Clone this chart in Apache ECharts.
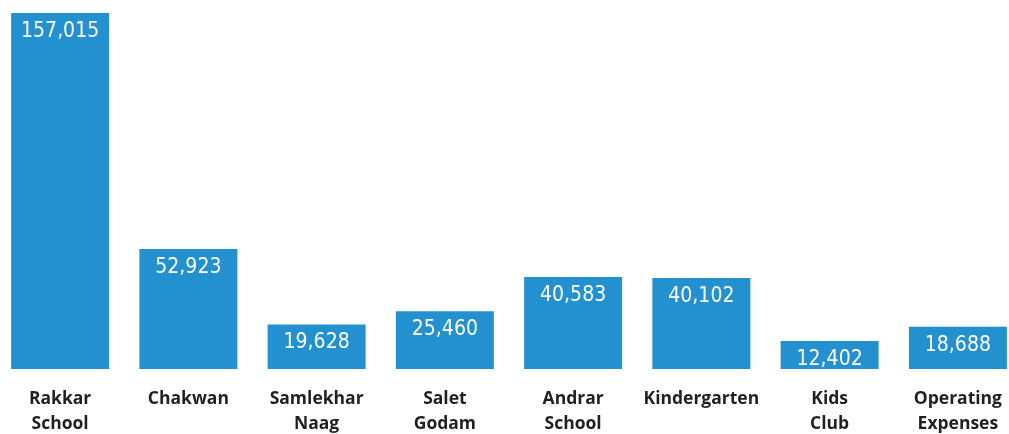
<!DOCTYPE html>
<html>
<head>
<meta charset="utf-8">
<script src="https://cdn.jsdelivr.net/npm/echarts@6/dist/echarts.min.js"></script>
<style>
html, body { margin: 0; padding: 0; background: #fff; }
#box { width: 1009px; height: 434px; }
</style>
</head>
<body>
<div id="box"></div>
<script>
const categories = ["Rakkar\nSchool", "Chakwan", "Samlekhar\nNaag", "Salet\nGodam", "Andrar\nSchool", "Kindergarten", "Kids\nClub", "Operating\nExpenses"];
const amounts = [157015, 52923, 19628, 25460, 40583, 40102, 12402, 18688];

let myChart = echarts.init(document.getElementById("box"));
let option = {
  animation: false,
  grid: { left: -4, right: -13, top: 13, bottom: 65, outerBoundsMode: "none", containLabel: false },
  xAxis: {
    type: "category",
    data: categories,
    axisLine: { show: false },
    axisTick: { show: false },
    axisLabel: {
      interval: 0,
      margin: 18,
      color: "#231f20",
      fontFamily: "Open Sans",
      fontWeight: "bold",
      fontSize: 17.5,
      lineHeight: 25
    }
  },
  yAxis: {
    type: "value",
    min: 0,
    max: 157015,
    show: false
  },
  series: [
    {
      type: "bar",
      data: amounts,
      barWidth: 98,
      itemStyle: { color: "#2390d0" },
      label: {
        show: true,
        position: "insideTop",
        distance: 8,
        color: "#fff",
        fontFamily: "'DejaVu Sans Condensed', 'Liberation Sans Narrow', Roboto, sans-serif",
        fontSize: 21,
        formatter: (p) => p.value.toLocaleString("en-US")
      }
    }
  ]
};
myChart.setOption(option);
</script>
</body>
</html>
